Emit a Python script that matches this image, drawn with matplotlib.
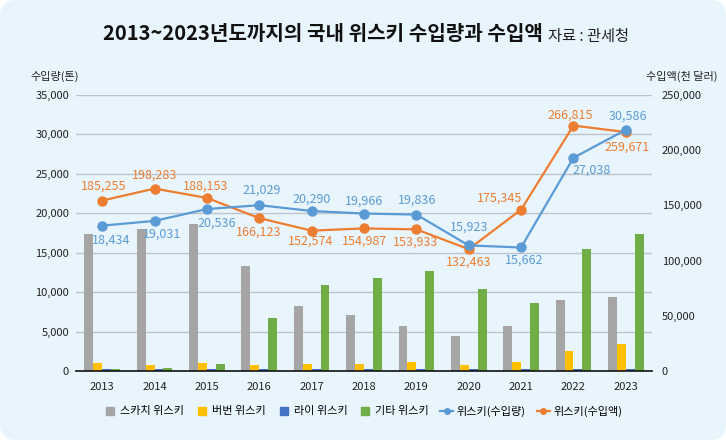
import numpy as np
import matplotlib
matplotlib.use('Agg')
import matplotlib.pyplot as plt
import matplotlib.transforms as mtransforms
from matplotlib.patches import FancyBboxPatch
from matplotlib.lines import Line2D
from matplotlib.ticker import FuncFormatter

plt.rcParams['font.family'] = ['Noto Sans CJK KR', 'DejaVu Sans']

# data
years = ['2013', '2014', '2015', '2016', '2017', '2018', '2019', '2020', '2021', '2022', '2023']
scotch = [17400, 18000, 18650, 13300, 8250, 7100, 5700, 4450, 5700, 9000, 9400]
bourbon = [1000, 760, 1000, 760, 890, 890, 1140, 760, 1140, 2550, 3450]
rye = [250, 250, 250, 250, 250, 250, 250, 250, 250, 250, 250]
other = [300, 400, 900, 6700, 10900, 11800, 12700, 10400, 8600, 15500, 17400]
volume = [18434, 19031, 20536, 21029, 20290, 19966, 19836, 15923, 15662, 27038, 30586]  # tons
value = [185255, 198283, 188153, 166123, 152574, 154987, 153933, 132463, 175345, 266815, 259671]  # thousand USD

bar_names = ['스카치 위스키', '버번 위스키', '라이 위스키', '기타 위스키']
bar_colors = ['#a5a5a5', '#ffc000', '#4472c4', '#70ad47']
blue = '#5b9bd5'
orange = '#ed7d31'

# label offsets in pixels (dx, dy up)
vol_off = [(9, -15), (8, -13), (10, -14), (2, 15), (0, 12), (0, 12), (1, 14), (0, 18), (3, -13), (18, -12), (2, 14)]
val_off = [(1, 14), (0, 13), (-1, 12), (-1, -14), (-1, -11), (1, -13), (-1, -13), (0, -13), (-21, 12), (-3, 10), (1, -15)]

W, H = 726, 440
fig = plt.figure(figsize=(W / 100, H / 100), dpi=100)
fig.patch.set_facecolor('white')
bg = FancyBboxPatch((0, 0), W, H, boxstyle='round,pad=0,rounding_size=16',
                    transform=mtransforms.IdentityTransform(),
                    facecolor='#e9f5fd', edgecolor='none', zorder=-10)
fig.add_artist(bg)

ax = fig.add_axes([76 / W, 1 - 371 / H, 576 / W, 276 / H])
ax.set_facecolor('none')
x = np.arange(len(years))
w = 0.17
for i, (vals, c) in enumerate(zip([scotch, bourbon, rye, other], bar_colors)):
    ax.bar(x + (i - 1.5) * w, vals, width=w, color=c, zorder=2)

ax.set_xlim(-0.5, len(years) - 0.5)
ax.set_ylim(0, 35000)
ax.set_yticks(np.arange(0, 35001, 5000))
ax.yaxis.set_major_formatter(FuncFormatter(lambda v, p: f'{v:,.0f}'))
ax.set_xticks(x)
ax.set_xticklabels(years)
ax.grid(axis='y', color='#bcc3ca', linewidth=1, zorder=0)
ax.set_axisbelow(True)
for s in ['left', 'right', 'top']:
    ax.spines[s].set_visible(False)
ax.spines['bottom'].set_color('#111111')
ax.spines['bottom'].set_linewidth(1.2)
ax.tick_params(axis='both', length=0, labelsize=8, colors='#222222')
ax.tick_params(axis='y', pad=5)
ax.tick_params(axis='x', pad=8)

# right axis labels
ax_r = ax.twinx()
ax_r.set_ylim(0, 250000)
ax_r.set_yticks(np.arange(0, 250001, 50000))
ax_r.yaxis.set_major_formatter(FuncFormatter(lambda v, p: f'{v:,.0f}'))
ax_r.tick_params(axis='y', length=0, labelsize=8, colors='#222222', pad=7)
for s in ax_r.spines.values():
    s.set_visible(False)

# orange line (drawn on its own 0-300,000 scale as in the source)
ax_o = ax.twinx()
ax_o.set_ylim(0, 300000)
ax_o.set_yticks([])
for s in ax_o.spines.values():
    s.set_visible(False)
ax_o.plot(x, value, color=orange, linewidth=1.6, marker='o', markersize=6.5)
for xi, v, (dx, dy) in zip(x, value, val_off):
    ax_o.annotate(f'{v:,}', (xi, v), xytext=(dx * 0.72, dy * 0.72), textcoords='offset points',
                  ha='center', va='center', fontsize=9, color=orange)

# blue line on top
ax_b = ax.twinx()
ax_b.set_ylim(0, 35000)
ax_b.set_yticks([])
for s in ax_b.spines.values():
    s.set_visible(False)
ax_b.plot(x, volume, color=blue, linewidth=1.6, marker='o', markersize=6.5)
for xi, v, (dx, dy) in zip(x, volume, vol_off):
    ax_b.annotate(f'{v:,}', (xi, v), xytext=(dx * 0.72, dy * 0.72), textcoords='offset points',
                  ha='center', va='center', fontsize=9, color=blue)

# titles
fig.text(543 / W, 1 - 33 / H, '2013~2023년도까지의 국내 위스키 수입량과 수입액', ha='right', va='center',
         fontsize=14.5, fontweight='bold', color='#111111')
fig.text(548 / W, 1 - 36 / H, '자료 : 관세청', ha='left', va='center', fontsize=11, color='#222222')
fig.text(30 / W, 1 - 76 / H, '수입량(톤)', ha='left', va='center', fontsize=8, color='#222222')
fig.text(718 / W, 1 - 76 / H, '수입액(천 달러)', ha='right', va='center', fontsize=8, color='#222222')

# legend
handles = [Line2D([], [], color=c, marker='s', linestyle='none', markersize=6) for c in bar_colors]
handles += [Line2D([], [], color=blue, marker='o', markersize=4, linewidth=1.6),
            Line2D([], [], color=orange, marker='o', markersize=4, linewidth=1.6)]
labels = bar_names + ['위스키(수입량)', '위스키(수입액)']
fig.legend(handles, labels, loc='center', bbox_to_anchor=(363 / W, 1 - 411 / H), ncol=6, frameon=False,
           fontsize=8, handlelength=1.2, handletextpad=0.3, columnspacing=1.0)

fig.savefig('out.png', dpi=100, facecolor=fig.get_facecolor())
